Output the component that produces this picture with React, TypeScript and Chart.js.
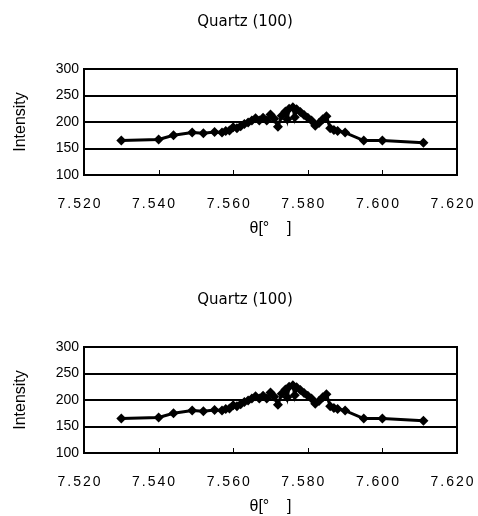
import React, { useEffect, useRef } from "react";
import { Chart, registerables } from "chart.js";

Chart.register(...registerables);

const chartTitle = "Quartz (100)";
const xAxisTitle = "θ[°    ]";
const yAxisTitle = "Intensity";
const xTickValues = [7.52, 7.54, 7.56, 7.58, 7.6, 7.62];

const thetaValues = [
  7.530, 7.540, 7.544, 7.549, 7.552, 7.555, 7.557, 7.558, 7.559, 7.560,
  7.561, 7.562, 7.563, 7.564, 7.565, 7.566, 7.567, 7.568, 7.569, 7.570,
  7.571, 7.572, 7.573, 7.574, 7.5745, 7.575, 7.576, 7.5765, 7.577, 7.578,
  7.579, 7.580, 7.581, 7.582, 7.583, 7.584, 7.585, 7.586, 7.587, 7.588,
  7.590, 7.595, 7.600, 7.611,
];
const intensityValues = [
  165, 167, 175, 180, 179, 181, 180, 183, 184, 190,
  188, 192, 196, 199, 203, 207, 203, 208, 203, 214,
  206, 191, 212, 220, 205, 225, 228, 209, 224, 219,
  213, 208, 203, 193, 198, 205, 211, 188, 185, 183,
  180, 165, 165, 161,
];

const frameAndTicks = {
  id: "frameAndTicks",
  afterDraw(chart: any) {
    const { ctx, chartArea } = chart;
    const xs = chart.scales.x;
    ctx.save();
    ctx.strokeStyle = "#000";
    ctx.lineWidth = 2;
    ctx.strokeRect(chartArea.left, chartArea.top, chartArea.right - chartArea.left, chartArea.bottom - chartArea.top);
    ctx.lineWidth = 1;
    for (const v of xTickValues) {
      const px = Math.round(xs.getPixelForValue(v)) + 0.5;
      ctx.beginPath();
      ctx.moveTo(px, chartArea.bottom);
      ctx.lineTo(px, chartArea.bottom - 5);
      ctx.stroke();
    }
    // chart title, centred over the whole chart object
    ctx.fillStyle = "#000";
    ctx.font = "15px 'DejaVu Sans', sans-serif";
    ctx.textAlign = "center";
    ctx.textBaseline = "middle";
    ctx.fillText(chartTitle, 245, 22);
    ctx.restore();
  },
};

function spacedLabels(scale: any, spacing: string, dx: number) {
  if (scale.__spaced) return;
  scale.__spaced = true;
  const orig = scale.drawLabels;
  scale.drawLabels = function (area: any) {
    const ctx = this.ctx;
    ctx.save();
    (ctx as any).letterSpacing = spacing;
    ctx.translate(dx, 0);
    orig.call(this, area);
    ctx.restore();
  };
}

function QuartzChart() {
  const ref = useRef<HTMLCanvasElement | null>(null);
  useEffect(() => {
    if (!ref.current) return;
    const data = thetaValues.map((t, i) => ({ x: t, y: intensityValues[i] }));
    const chart = new Chart(ref.current, {
      type: "scatter",
      data: {
        datasets: [
          {
            data,
            showLine: true,
            borderColor: "#000",
            backgroundColor: "#000",
            borderWidth: 3,
            pointStyle: "rectRot",
            pointRadius: 5,
            pointBorderWidth: 0,
          },
        ],
      },
      options: {
        animation: false,
        responsive: false,
        maintainAspectRatio: false,
        layout: { padding: { left: 8, right: 21, top: 69, bottom: 0 } },
        plugins: {
          legend: { display: false },
          tooltip: { enabled: false },
          title: { display: false },
        },
        scales: {
          x: {
            type: "linear",
            min: 7.52,
            max: 7.62,
            afterBuildTicks: (scale: any) => {
              scale.ticks = xTickValues.map((v) => ({ value: v }));
            },
            afterFit: (scale: any) => {
              scale.height = 63;
              scale.paddingLeft = 0;
              scale.paddingRight = 0;
            },
            afterUpdate: (scale: any) => spacedLabels(scale, "2px", -4),
            ticks: {
              color: "#000",
              padding: 21,
              maxRotation: 0,
              font: { family: "'Liberation Sans', Arial, sans-serif", size: 14 },
              callback: (v: any) => Number(v).toFixed(3),
            },
            grid: { display: false, drawTicks: false },
            border: { display: false },
            title: {
              display: true,
              text: xAxisTitle,
              color: "#000",
              font: { family: "'Liberation Sans', Arial, sans-serif", size: 16 },
              padding: { top: 2, bottom: 0 },
            },
          },
          y: {
            min: 100,
            max: 300,
            afterFit: (scale: any) => {
              scale.width = 76;
              scale.paddingTop = 0;
            },
            ticks: {
              stepSize: 50,
              color: "#000",
              padding: 5,
              font: { family: "'Liberation Sans', Arial, sans-serif", size: 14 },
            },
            grid: { color: "#000", lineWidth: 2, drawTicks: false },
            border: { display: false },
            title: {
              display: true,
              text: yAxisTitle,
              color: "#000",
              font: { family: "'Liberation Sans', Arial, sans-serif", size: 16 },
              padding: { top: 3, bottom: 4 },
            },
          },
        },
      },
      plugins: [frameAndTicks],
    } as any);
    return () => chart.destroy();
  }, []);
  return <canvas ref={ref} width={478} height={238} style={{ display: "block", width: 478, height: 238 }} />;
}

export default function App() {
  return (
    <div style={{ position: "absolute", left: 0, top: 0, width: 478, height: 516, background: "#fff", overflow: "hidden" }}>
      <div style={{ position: "absolute", left: 0, top: 0 }}>
        <QuartzChart />
      </div>
      <div style={{ position: "absolute", left: 0, top: 278 }}>
        <QuartzChart />
      </div>
    </div>
  );
}
